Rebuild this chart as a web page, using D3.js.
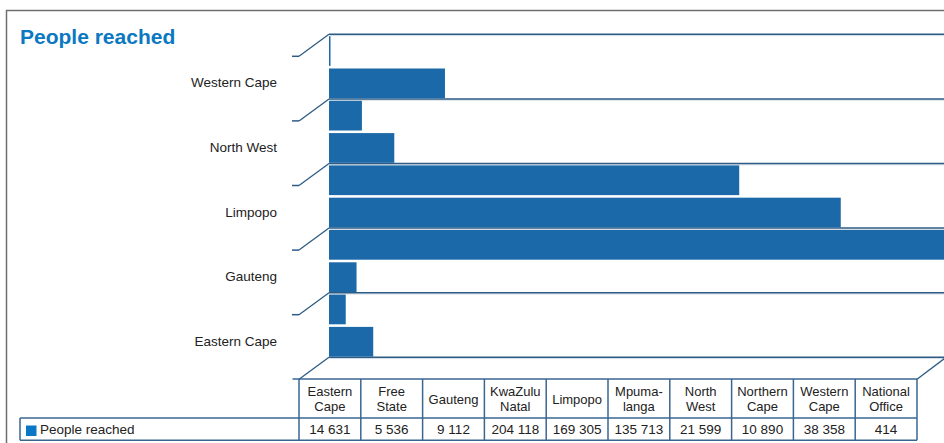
<!DOCTYPE html>
<html>
<head>
<meta charset="utf-8">
<script src="https://cdn.jsdelivr.net/npm/d3@7/dist/d3.min.js"></script>
<style>
  html, body { margin: 0; padding: 0; background: #fff; }
  svg { display: block; }
  text { font-family: "Liberation Sans", Arial, sans-serif; fill: #222; }
</style>
</head>
<body>
<svg id="chart" width="944" height="443"></svg>
<script>
// ---- data ----
const title = "People reached";
const seriesName = "People reached";
const categories = ["Eastern Cape", "Free State", "Gauteng", "KwaZulu Natal", "Limpopo",
                    "Mpumalanga", "North West", "Northern Cape", "Western Cape", "National Office"];
const values = [14631, 5536, 9112, 204118, 169305, 135713, 21599, 10890, 38358, 414];
const headerLabels = ["Eastern\nCape", "Free\nState", "Gauteng", "KwaZulu\nNatal", "Limpopo",
                      "Mpuma-\nlanga", "North\nWest", "Northern\nCape", "Western\nCape", "National\nOffice"];
const axisLabels = ["Eastern Cape", "Gauteng", "Limpopo", "North West", "Western Cape"];

// ---- layout ----
const svg = d3.select("#chart");
const backLeft = 330, backRight = 946, backTop = 34.3, backBottom = 357.3;
const depthX = -30, depthY = 22;
const barColor = "#1b69a8", gridColor = "#2d5b84", tableColor = "#3a6690";
const fmt = d3.formatLocale({decimal: ".", thousands: " ", grouping: [3], currency: ["", ""]}).format(",d");

// outer frame
svg.append("rect").attr("x", 6.5).attr("y", 10.5).attr("width", 1000).attr("height", 500)
  .attr("fill", "none").attr("stroke", "#6f6f6f").attr("stroke-width", 1.5);

// title
svg.append("text").attr("x", 20).attr("y", 44).text(title)
  .style("font-size", "21px").style("font-weight", "bold").style("fill", "#0b78c2");

// scales
const x = d3.scaleLinear().domain([0, d3.max(values)]).range([backLeft - 1, backRight]);
const y = d3.scaleBand().domain(categories).range([backBottom, backTop])
  .paddingInner(0.08).paddingOuter(0.04);
const gridIdx = d3.scaleLinear().domain([0, categories.length]).range([backBottom, backTop]);
const gridTicks = d3.range(0, categories.length + 1, 2);

// gridlines (back wall + floor diagonals + front ticks)
const grid = svg.append("g");
gridTicks.forEach((t, i) => {
  const gy = gridIdx(t);
  grid.append("line").attr("x1", backLeft).attr("x2", 944).attr("y1", gy + 1.3).attr("y2", gy + 1.3)
    .attr("stroke", "#cfdbe6").attr("stroke-width", 1);
  grid.append("line").attr("x1", backLeft - 1).attr("x2", 944).attr("y1", gy).attr("y2", gy)
    .attr("stroke", gridColor).attr("stroke-width", 1.5);
  grid.append("line").attr("x1", backLeft - 1).attr("y1", gy)
    .attr("x2", backLeft - 1 + depthX).attr("y2", gy + depthY)
    .attr("stroke", gridColor).attr("stroke-width", 1.3);
  if (t > 0) {
    grid.append("line").attr("x1", backLeft - 1 + depthX).attr("x2", backLeft - 8 + depthX)
      .attr("y1", gy + depthY).attr("y2", gy + depthY)
      .attr("stroke", gridColor).attr("stroke-width", 1.5);
  }
});
// floor right diagonal
grid.append("line").attr("x1", backRight).attr("y1", backBottom)
  .attr("x2", backRight + depthX + 1).attr("y2", backBottom + depthY)
  .attr("stroke", gridColor).attr("stroke-width", 1.3);

// bars
svg.append("g").selectAll("rect").data(categories).join("rect")
  .attr("x", backLeft - 1)
  .attr("y", d => y(d) + 0.6)
  .attr("width", (d, i) => Math.max(1.5, x(values[i]) - x(0)))
  .attr("height", y.bandwidth())
  .attr("fill", barColor);

// category axis labels
const yAxis = d3.axisLeft(y).tickValues(axisLabels).tickSize(0).tickPadding(3);
const ag = svg.append("g").attr("transform", "translate(280,0.3)").call(yAxis);
ag.select(".domain").remove();
ag.selectAll("text").style("font-size", "13.5px").style("fill", "#222")
  .style("font-family", "'Liberation Sans', Arial, sans-serif");

// ---- data table ----
const tLeft = 299, tRight = 917, hTop = 379, rTop = 418, rBottom = 440.3, legendLeft = 20;
const col = d3.scaleBand().domain(categories).range([tLeft, tRight]);
const tbl = svg.append("g");
// front floor line with left tick
tbl.append("line").attr("x1", 292.5).attr("x2", tRight).attr("y1", hTop).attr("y2", hTop)
  .attr("stroke", tableColor).attr("stroke-width", 1.5);
tbl.append("line").attr("x1", legendLeft).attr("x2", tRight).attr("y1", rTop).attr("y2", rTop)
  .attr("stroke", tableColor).attr("stroke-width", 1.5);
tbl.append("line").attr("x1", legendLeft).attr("x2", tRight).attr("y1", rBottom).attr("y2", rBottom)
  .attr("stroke", tableColor).attr("stroke-width", 1.5);
tbl.append("line").attr("x1", legendLeft).attr("x2", legendLeft).attr("y1", rTop).attr("y2", rBottom)
  .attr("stroke", tableColor).attr("stroke-width", 1.5);
const edges = categories.map(c => col(c)).concat([tRight]);
edges.forEach(ex => {
  tbl.append("line").attr("x1", ex).attr("x2", ex).attr("y1", hTop).attr("y2", rBottom)
    .attr("stroke", tableColor).attr("stroke-width", 1.5);
});
// header labels
categories.forEach((c, i) => {
  const lines = headerLabels[i].split("\n");
  const cx = col(c) + col.bandwidth() / 2;
  const cy = (hTop + rTop) / 2 + 0.8;
  const t = tbl.append("text").attr("text-anchor", "middle").style("font-size", "13px");
  lines.forEach((ln, j) => {
    t.append("tspan").attr("x", cx)
      .attr("y", cy + (j - (lines.length - 1) / 2) * 15)
      .attr("dy", "0.35em").text(ln);
  });
  tbl.append("text").attr("x", cx).attr("y", (rTop + rBottom) / 2).attr("dy", "0.35em")
    .attr("text-anchor", "middle").style("font-size", "13.5px").text(fmt(values[i]));
});
// legend
tbl.append("rect").attr("x", 26).attr("y", 425.5).attr("width", 10.5).attr("height", 10.5)
  .attr("fill", "#0a78c6");
tbl.append("text").attr("x", 40).attr("y", (rTop + rBottom) / 2).attr("dy", "0.35em")
  .style("font-size", "13.5px").text(seriesName);
</script>
</body>
</html>
